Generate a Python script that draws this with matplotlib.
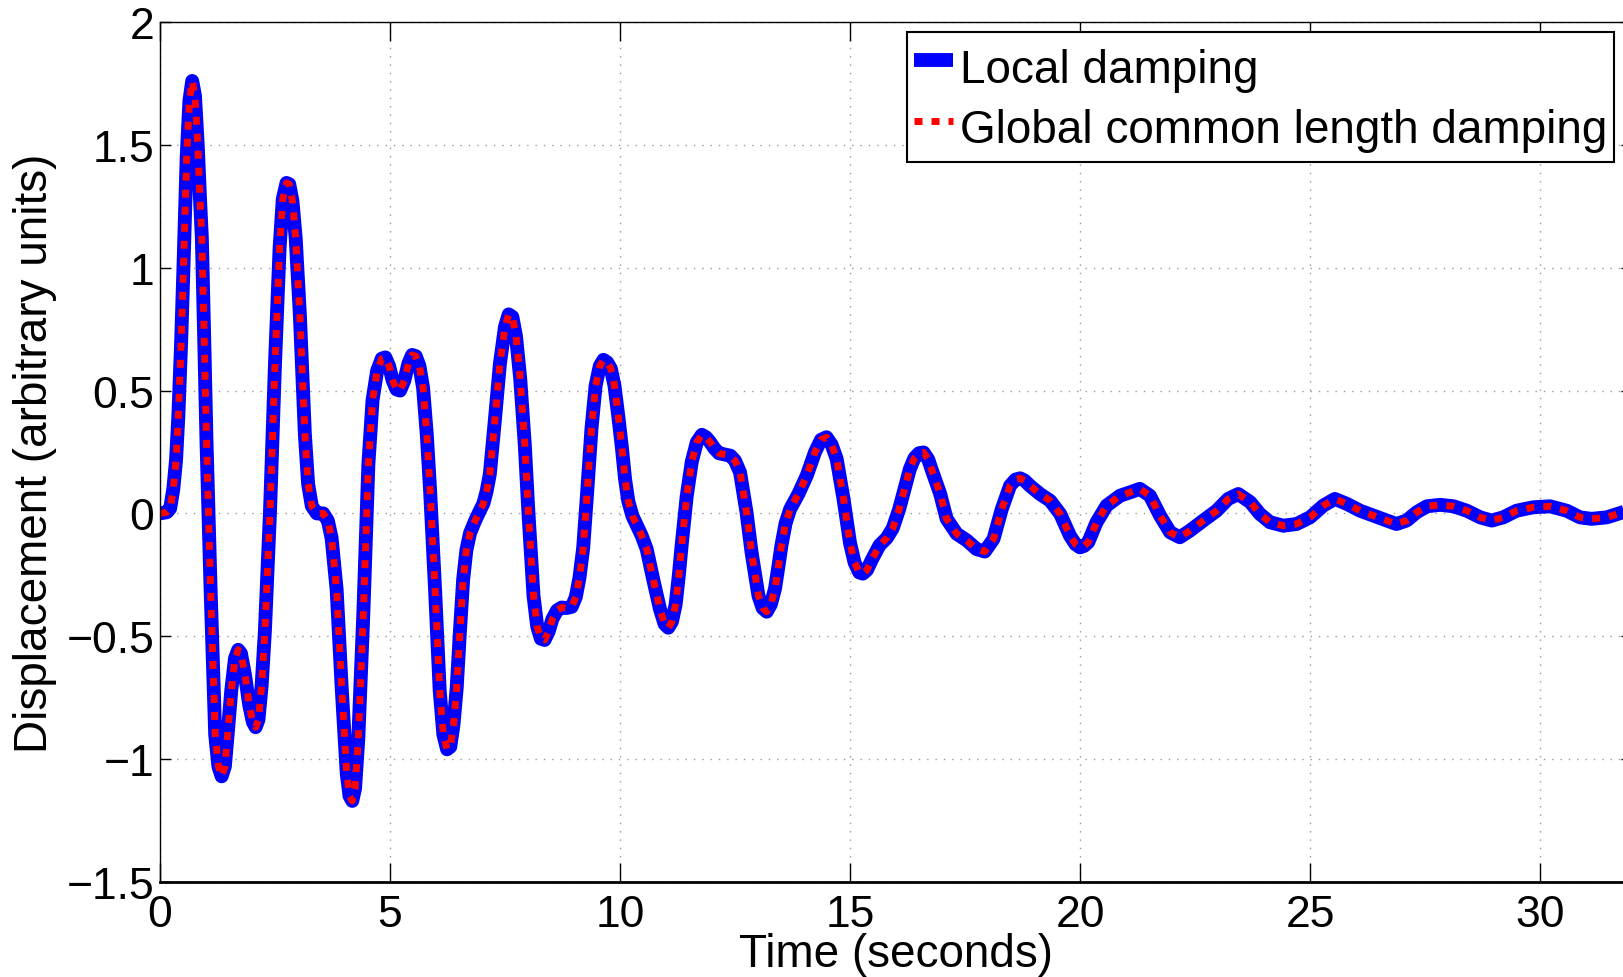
import numpy as np
import matplotlib
matplotlib.use("Agg")
from matplotlib import pyplot as plt

plt.rcParams['font.family'] = ['Liberation Sans', 'DejaVu Sans']

# time samples (s)
t = [0, 0.15, 0.22, 0.29, 0.35, 0.40, 0.46, 0.51, 0.58, 0.64,
     0.70, 0.76, 0.82, 0.87, 0.91, 0.96, 1.01, 1.10, 1.20, 1.27,
     1.34, 1.41, 1.47, 1.55, 1.63, 1.70, 1.76, 1.85, 1.94, 2.02,
     2.08, 2.14, 2.21, 2.28, 2.39, 2.50, 2.60, 2.67, 2.75, 2.81,
     2.88, 2.95, 3.04, 3.15, 3.22, 3.30, 3.41, 3.55, 3.65, 3.73,
     3.84, 3.95, 4.06, 4.12, 4.18, 4.24, 4.31, 4.42, 4.53, 4.62,
     4.72, 4.82, 4.90, 4.98, 5.06, 5.14, 5.22, 5.31, 5.40, 5.48,
     5.56, 5.64, 5.72, 5.80, 5.87, 5.98, 6.08, 6.16, 6.24, 6.31,
     6.38, 6.45, 6.52, 6.59, 6.66, 6.74, 6.85, 6.95, 7.03, 7.10,
     7.17, 7.28, 7.39, 7.50, 7.58, 7.66, 7.74, 7.83, 7.93, 8.01,
     8.12, 8.20, 8.28, 8.36, 8.45, 8.53, 8.63, 8.73, 8.84, 8.95,
     9.04, 9.12, 9.20, 9.28, 9.38, 9.47, 9.56, 9.64, 9.72, 9.80,
     9.88, 9.96, 10.04, 10.11, 10.18, 10.27, 10.37, 10.47, 10.58, 10.72,
     10.87, 10.97, 11.05, 11.13, 11.21, 11.28, 11.34, 11.45, 11.56, 11.67,
     11.78, 11.87, 11.96, 12.05, 12.15, 12.28, 12.40, 12.50, 12.61, 12.75,
     12.86, 13.01, 13.10, 13.19, 13.28, 13.37, 13.44, 13.51, 13.60, 13.70,
     13.88, 14.06, 14.24, 14.37, 14.49, 14.60, 14.71, 14.86, 15.0, 15.10,
     15.20, 15.28, 15.37, 15.47, 15.64, 15.80, 15.93, 16.07, 16.20, 16.30,
     16.40, 16.50, 16.60, 16.70, 16.80, 16.96, 17.10, 17.32, 17.54, 17.75,
     17.93, 18.12, 18.30, 18.48, 18.60, 18.70, 18.80, 18.91, 19.13, 19.35,
     19.57, 19.78, 19.90, 20.0, 20.09, 20.18, 20.36, 20.58, 20.87, 21.09,
     21.30, 21.52, 21.74, 21.96, 22.17, 22.39, 22.68, 22.97, 23.22, 23.44,
     23.70, 23.91, 24.13, 24.42, 24.71, 25.0, 25.29, 25.54, 25.80, 26.09,
     26.38, 26.67, 26.88, 27.10, 27.32, 27.54, 27.83, 28.12, 28.41, 28.70,
     28.95, 29.20, 29.49, 29.85, 30.22, 30.58, 30.87, 31.12, 31.45, 31.80,
     32.0]

# displacement, local damping model
local_disp = [0, 0.005, 0.02, 0.10, 0.22, 0.40, 0.70, 1.0, 1.45, 1.68,
              1.76, 1.70, 1.50, 1.28, 1.12, 0.72, 0.30, -0.31, -0.90, -1.03,
              -1.07, -1.03, -0.90, -0.72, -0.59, -0.555, -0.57, -0.66, -0.78, -0.85,
              -0.87, -0.84, -0.70, -0.48, 0.0, 0.61, 1.08, 1.28, 1.345, 1.34,
              1.27, 1.12, 0.81, 0.32, 0.12, 0.03, 0.0, 0.0, -0.03, -0.10,
              -0.31, -0.71, -1.06, -1.15, -1.17, -1.12, -0.92, -0.41, 0.20, 0.46,
              0.58, 0.63, 0.635, 0.60, 0.54, 0.505, 0.50, 0.54, 0.61, 0.645,
              0.64, 0.60, 0.51, 0.32, 0.10, -0.31, -0.72, -0.90, -0.96, -0.95,
              -0.86, -0.71, -0.48, -0.27, -0.15, -0.08, -0.03, 0.01, 0.04, 0.09,
              0.16, 0.38, 0.61, 0.76, 0.81, 0.80, 0.72, 0.55, 0.28, 0.0,
              -0.335, -0.46, -0.51, -0.515, -0.48, -0.43, -0.395, -0.383, -0.385, -0.38,
              -0.34, -0.26, -0.14, 0.07, 0.345, 0.52, 0.60, 0.625, 0.615, 0.59,
              0.52, 0.40, 0.27, 0.14, 0.05, -0.01, -0.05, -0.09, -0.145, -0.267,
              -0.39, -0.45, -0.465, -0.44, -0.37, -0.25, -0.13, 0.07, 0.21, 0.29,
              0.32, 0.31, 0.29, 0.265, 0.245, 0.24, 0.235, 0.215, 0.167, 0.005,
              -0.158, -0.335, -0.385, -0.40, -0.37, -0.306, -0.22, -0.13, -0.04, 0.018,
              0.08, 0.154, 0.25, 0.30, 0.31, 0.28, 0.222, 0.058, -0.12, -0.20,
              -0.24, -0.245, -0.23, -0.19, -0.13, -0.10, -0.06, 0.018, 0.11, 0.18,
              0.225, 0.245, 0.248, 0.22, 0.165, 0.08, -0.022, -0.083, -0.11, -0.145,
              -0.155, -0.104, 0.018, 0.113, 0.138, 0.143, 0.133, 0.113, 0.079, 0.052,
              -0.002, -0.09, -0.125, -0.138, -0.132, -0.117, -0.036, 0.032, 0.072, 0.086,
              0.10, 0.072, -0.009, -0.077, -0.097, -0.07, -0.029, 0.011, 0.059, 0.079,
              0.046, -0.002, -0.036, -0.05, -0.043, -0.016, 0.032, 0.059, 0.039, 0.011,
              -0.009, -0.029, -0.043, -0.029, 0.005, 0.029, 0.035, 0.029, 0.011, -0.016,
              -0.029, -0.016, 0.011, 0.025, 0.029, 0.011, -0.016, -0.022, -0.016, 0.005,
              0.015]

# the global model gives the same response
global_disp = list(local_disp)

W, H = 1623, 978
fig = plt.figure(figsize=(W / 100, H / 100), dpi=100)
ax = fig.add_axes([160 / W, (H - 883) / H, (1632 - 160) / W, (883 - 23) / H])

ax.plot(t, local_disp, color='blue', lw=10, solid_joinstyle='round',
        solid_capstyle='butt', label='Local damping')
ax.plot(t, global_disp, color='red', lw=5, linestyle=(0, (1.15, 1.3)),
        dash_capstyle='butt', dash_joinstyle='round',
        label='Global common length damping')

ax.set_xlim(0, 32)
ax.set_ylim(-1.5, 2)
ax.set_xticks([0, 5, 10, 15, 20, 25, 30])
ax.set_yticks([-1.5, -1, -0.5, 0, 0.5, 1, 1.5, 2])
ax.set_yticklabels(['\u22121.5', '\u22121', '\u22120.5', '0', '0.5', '1', '1.5', '2'])

ax.grid(True, linestyle=(0, (1, 5)), color='#999999', lw=1)
ax.tick_params(axis='both', direction='in', labelsize=32, top=True, right=True, width=1)
ax.tick_params(axis='x', length=14, pad=9)
ax.tick_params(axis='y', length=8, pad=4)
for s in ax.spines.values():
    s.set_linewidth(1)
ax.spines['bottom'].set_linewidth(2)

ax.set_xlabel('Time (seconds)', fontsize=33)
ax.xaxis.set_label_coords(0.5, -0.058)
ax.set_ylabel('Displacement (arbitrary units)', fontsize=33)
ax.yaxis.set_label_coords(-0.07, 0.5)

# taller rows, tight sides
leg = ax.legend(loc='upper left', bbox_to_anchor=(907 / W, 1 - 33 / H),
                bbox_transform=fig.transFigure, fontsize=33, fancybox=False,
                edgecolor='black', framealpha=1, borderaxespad=0, borderpad=0.15,
                handlelength=0.85, handletextpad=0.15, handleheight=1.5,
                labelspacing=0.1)
leg.get_frame().set_linewidth(1.5)

fig.savefig('out.png', dpi=100)
